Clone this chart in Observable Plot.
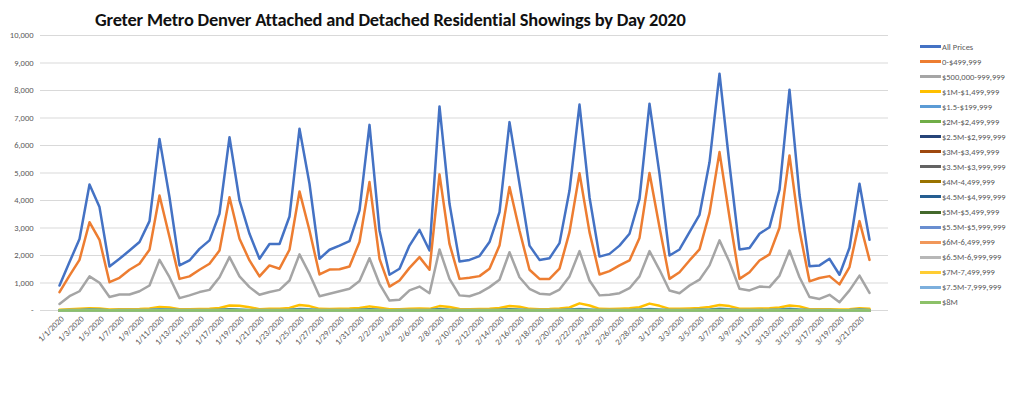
<!DOCTYPE html>
<html>
<head>
<meta charset="utf-8">
<script src="https://cdn.jsdelivr.net/npm/d3@7"></script>
<script src="https://cdn.jsdelivr.net/npm/@observablehq/plot@0.6"></script>
<style>
  html, body { margin: 0; padding: 0; background: #fff; }
  body { width: 1024px; height: 397px; position: relative; overflow: hidden; font-family: Carlito, Lato, "Open Sans", sans-serif; }
  #title { position: absolute; left: 95px; top: 8px; font-size: 18.4px; font-weight: bold; color: #111; white-space: nowrap; letter-spacing: -0.2px; }
  #chart { position: absolute; left: 0; top: 0; }
  #legend { position: absolute; left: 920px; top: 39px; font-size: 8.5px; color: #595959; }
  .item { height: 15.06px; display: flex; align-items: center; white-space: nowrap; }
  .sw { width: 21px; height: 3px; margin-right: 1px; }
</style>
</head>
<body>
<div id="title">Greter Metro Denver Attached and Detached Residential Showings by Day 2020</div>
<div id="chart"></div>
<div id="legend"></div>
<script>
const dates = ["1/1/2020","1/2/2020","1/3/2020","1/4/2020","1/5/2020","1/6/2020","1/7/2020","1/8/2020","1/9/2020","1/10/2020",
"1/11/2020","1/12/2020","1/13/2020","1/14/2020","1/15/2020","1/16/2020","1/17/2020","1/18/2020","1/19/2020","1/20/2020",
"1/21/2020","1/22/2020","1/23/2020","1/24/2020","1/25/2020","1/26/2020","1/27/2020","1/28/2020","1/29/2020","1/30/2020",
"1/31/2020","2/1/2020","2/2/2020","2/3/2020","2/4/2020","2/5/2020","2/6/2020","2/7/2020","2/8/2020","2/9/2020",
"2/10/2020","2/11/2020","2/12/2020","2/13/2020","2/14/2020","2/15/2020","2/16/2020","2/17/2020","2/18/2020","2/19/2020",
"2/20/2020","2/21/2020","2/22/2020","2/23/2020","2/24/2020","2/25/2020","2/26/2020","2/27/2020","2/28/2020","2/29/2020",
"3/1/2020","3/2/2020","3/3/2020","3/4/2020","3/5/2020","3/6/2020","3/7/2020","3/8/2020","3/9/2020","3/10/2020",
"3/11/2020","3/12/2020","3/13/2020","3/14/2020","3/15/2020","3/16/2020","3/17/2020","3/18/2020","3/19/2020","3/20/2020",
"3/21/2020","3/22/2020"];

const xTickLabels = ["1/1/2020","1/3/2020","1/5/2020","1/7/2020","1/9/2020","1/11/2020","1/13/2020","1/15/2020","1/17/2020","1/19/2020",
"1/21/2020","1/23/2020","1/25/2020","1/27/2020","1/29/2020","1/31/2020","2/2/2020","2/4/2020","2/6/2020","2/8/2020",
"2/10/2020","2/12/2020","2/14/2020","2/16/2020","2/18/2020","2/20/2020","2/22/2020","2/24/2020","2/26/2020","2/28/2020",
"3/1/2020","3/3/2020","3/5/2020","3/7/2020","3/9/2020","3/11/2020","3/13/2020","3/15/2020","3/17/2020","3/19/2020","3/21/2020"];

const yTicks = [0,1000,2000,3000,4000,5000,6000,7000,8000,9000,10000];

const allPrices = [909,1760,2600,4580,3760,1600,1880,2180,2490,3250,
6240,4120,1640,1820,2240,2550,3520,6300,4000,2790,
1880,2420,2420,3420,6610,4610,1880,2210,2360,2520,
3640,6750,2910,1300,1520,2360,2930,2180,7420,3880,
1780,1840,1980,2490,3580,6850,4610,2360,1840,1900,
2450,4360,7490,4120,1960,2060,2360,2790,4060,7520,
4970,2000,2220,2850,3480,5390,8610,5300,2220,2270,
2790,3030,4390,8030,4200,1610,1640,1880,1300,2280,
4610,2570];

const under500k = [670,1270,1840,3210,2570,1030,1190,1480,1700,2210,
4180,2670,1150,1240,1480,1700,2180,4120,2610,1820,
1240,1640,1520,2210,4330,2910,1310,1490,1500,1600,
2490,4670,1880,870,1090,1550,1940,1480,4950,2420,
1150,1190,1250,1520,2360,4490,2910,1480,1150,1150,
1520,2850,4990,2850,1310,1430,1640,1820,2640,5000,
3030,1150,1390,1820,2220,3540,5760,3390,1150,1390,
1820,2040,3010,5640,2910,1060,1180,1250,950,1580,
3250,1840];

const r500k = [240,520,700,1240,1010,490,580,580,700,910,
1840,1210,450,550,670,750,1210,1940,1240,850,
570,670,750,1090,2040,1330,520,610,700,790,
1070,1900,970,360,390,730,870,630,2220,1150,
550,520,640,850,1120,2120,1210,790,610,580,
760,1240,2160,1090,550,570,630,810,1240,2160,
1480,730,630,910,1120,1640,2550,1760,790,730,
870,850,1270,2180,1210,490,420,570,300,730,
1270,640];

const r1m = [30,45,60,80,70,40,45,50,55,70,
130,110,50,45,55,60,90,180,170,120,
50,60,65,95,200,160,60,55,60,70,
90,150,100,45,50,60,70,60,160,130,
55,50,55,65,90,160,140,60,50,55,
70,110,260,180,60,55,65,80,120,250,
170,60,60,75,90,130,200,160,65,60,
70,80,110,180,150,45,45,50,35,50,
80,60];

const r15m = [10,15,20,35,30,12,14,16,18,25,45,35,14,15,18,20,28,50,40,22,15,18,18,28,55,42,16,17,18,20,30,50,25,12,14,18,22,18,55,30,15,15,16,20,28,50,38,18,15,16,20,35,58,38,16,17,19,22,35,58,40,17,18,22,28,40,65,45,18,18,22,24,35,60,35,14,14,16,12,18,38,22];
const r2m = [5,8,10,18,15,6,7,8,9,12,22,18,7,8,9,10,14,25,20,11,8,9,9,14,28,21,8,9,9,10,15,25,12,6,7,9,11,9,28,15,8,8,8,10,14,25,19,9,8,8,10,18,29,19,8,9,10,11,18,29,20,9,9,11,14,20,32,22,9,9,11,12,18,30,18,7,7,8,6,9,19,11];
const r25m = [3,4,6,10,8,3,4,4,5,7,12,10,4,4,5,6,8,14,11,6,4,5,5,8,15,12,4,5,5,6,8,14,7,3,4,5,6,5,15,8,4,4,4,6,8,14,10,5,4,4,6,10,16,10,4,5,6,6,10,16,11,5,5,6,8,11,18,12,5,5,6,7,10,17,10,4,4,4,3,5,10,6];
const r3m = [2,2,3,6,5,2,2,2,3,4,7,6,2,2,3,3,5,8,6,3,2,3,3,5,9,7,2,3,3,3,5,8,4,2,2,3,3,3,9,5,2,2,2,3,5,8,6,3,2,2,3,6,9,6,2,3,3,3,6,9,6,3,3,3,5,6,10,7,3,3,3,4,6,9,6,2,2,2,2,3,6,3];
const r35m = [1,1,2,4,3,1,1,1,2,2,5,4,1,1,2,2,3,5,4,2,1,2,2,3,6,4,1,2,2,2,3,5,2,1,1,2,2,2,6,3,1,1,1,2,3,5,4,2,1,1,2,4,6,4,1,2,2,2,4,6,4,2,2,2,3,4,7,5,2,2,2,2,4,6,4,1,1,1,1,2,4,2];
const r4m = [0,1,1,3,2,1,1,1,1,2,3,2,1,1,1,1,2,4,3,1,1,1,1,2,4,3,1,1,1,1,2,3,1,0,1,1,1,1,4,2,1,1,1,1,2,3,2,1,1,1,1,2,4,3,1,1,1,1,2,4,3,1,1,1,2,3,5,3,1,1,1,1,2,4,2,1,1,1,0,1,2,1];
const r45m = [0,0,1,2,1,0,1,0,1,1,2,1,0,1,1,1,1,3,2,1,0,1,1,1,3,2,1,0,1,1,1,2,1,0,0,1,1,1,3,1,1,0,1,1,1,2,2,1,0,1,1,2,3,2,1,0,1,1,1,3,2,1,1,1,1,2,3,2,1,1,1,1,1,3,2,0,0,1,0,1,2,1];
const r5m = [0,0,0,1,1,0,0,0,1,1,2,1,0,0,1,0,1,2,1,1,0,0,1,1,2,1,0,0,1,0,1,2,1,0,0,0,1,0,2,1,0,0,0,1,1,2,1,0,0,0,1,1,2,1,0,0,1,1,1,2,1,0,0,1,1,1,2,1,0,0,1,1,1,2,1,0,0,0,0,0,1,1];
const r55m = [0,0,0,1,0,0,0,0,0,1,1,1,0,0,0,0,1,2,1,0,0,0,0,1,2,1,0,0,0,0,1,1,0,0,0,0,0,0,2,1,0,0,0,0,1,1,1,0,0,0,0,1,2,1,0,0,0,1,1,2,1,0,0,0,1,1,2,1,0,0,0,0,1,2,1,0,0,0,0,0,1,0];
const r6m = [0,0,0,1,0,0,0,0,0,0,1,0,0,0,0,0,0,1,1,0,0,0,0,0,1,1,0,0,0,0,0,1,0,0,0,0,0,0,1,0,0,0,0,0,0,1,0,0,0,0,0,1,1,0,0,0,0,0,1,1,1,0,0,0,0,1,1,1,0,0,0,0,0,1,0,0,0,0,0,0,1,0];
const r65m = [0,0,0,0,0,0,0,0,0,0,1,0,0,0,0,0,0,1,0,0,0,0,0,0,1,0,0,0,0,0,0,1,0,0,0,0,0,0,1,0,0,0,0,0,0,1,0,0,0,0,0,0,1,0,0,0,0,0,0,1,0,0,0,0,0,0,1,0,0,0,0,0,0,1,0,0,0,0,0,0,0,0];
const r7m = [0,0,0,0,0,0,0,0,0,0,0,0,0,0,0,0,0,1,0,0,0,0,0,0,0,0,0,0,0,0,0,0,0,0,0,0,0,0,1,0,0,0,0,0,0,0,0,0,0,0,0,0,1,0,0,0,0,0,0,0,0,0,0,0,0,0,1,0,0,0,0,0,0,0,0,0,0,0,0,0,0,0];
const r75m = [0,0,0,0,0,0,0,0,0,0,0,0,0,0,0,0,0,0,0,0,0,0,0,0,1,0,0,0,0,0,0,0,0,0,0,0,0,0,0,0,0,0,0,0,0,0,0,0,0,0,0,0,0,0,0,0,0,0,0,1,0,0,0,0,0,0,0,0,0,0,0,0,0,0,0,0,0,0,0,0,0,0];
const r8m = [0,0,0,1,0,0,0,0,0,0,1,0,0,0,0,0,0,1,0,0,0,0,0,0,1,0,0,0,0,0,0,1,0,0,0,0,0,0,1,0,0,0,0,0,0,1,0,0,0,0,0,0,1,0,0,0,0,0,0,1,0,0,0,0,0,0,2,0,0,0,0,0,0,1,0,0,0,0,0,0,0,0];

const seriesNames = ["All Prices","0-$499,999","$500,000-999,999","$1M-$1,499,999","$1.5-$199,999","$2M-$2,499,999",
"$2.5M-$2,999,999","$3M-$3,499,999","$3.5M-$3,999,999","$4M-4,499,999","$4.5M-$4,999,999","$5M-$5,499,999",
"$5.5M-$5,999,999","$6M-6,499,999","$6.5M-6,999,999","$7M-7,499,999","$7.5M-7,999,999","$8M"];
const seriesColors = ["#4472C4","#ED7D31","#A5A5A5","#FFC000","#5B9BD5","#70AD47","#264478","#9E480E","#636363",
"#997300","#255E91","#43682B","#698ED0","#F1975A","#B7B7B7","#FFCD33","#7CAFDD","#8CC168"];
const seriesValues = [allPrices,under500k,r500k,r1m,r15m,r2m,r25m,r3m,r35m,r4m,r45m,r5m,r55m,r6m,r65m,r7m,r75m,r8m];

const rows = seriesNames.flatMap((name, s) =>
  seriesValues[s].map((v, i) => ({series: name, date: dates[i], value: v})));

const fmt = d => d === 0 ? "-" : d3.format(",")(d);

const chart = Plot.plot({
  width: 1024,
  height: 397,
  marginLeft: 40,
  marginRight: 136,
  marginTop: 35,
  marginBottom: 87,
  style: {fontFamily: "Carlito, Lato, 'Open Sans', sans-serif", background: "transparent"},
  x: {type: "point", domain: dates, padding: 0.5},
  y: {domain: [0, 10000]},
  color: {domain: seriesNames, range: seriesColors},
  marks: [
    Plot.gridY(yTicks, {stroke: "#d9d9d9", strokeOpacity: 1, strokeWidth: 1}),
    Plot.axisY(yTicks, {tickSize: 0, tickPadding: 7, tickFormat: fmt, fontSize: 8.5, fill: "#595959", label: null}),
    Plot.axisX(xTickLabels, {tickSize: 0, tickPadding: 7, tickRotate: -45, fontSize: 8.5, fill: "#595959", label: null, dx: 3}),
    ...seriesNames.map((name, s) =>
      Plot.line(rows.filter(r => r.series === name), {
        x: "date", y: "value", stroke: seriesColors[s], strokeWidth: 2.5, strokeLinejoin: "round", strokeLinecap: "round"
      }))
  ]
});
document.getElementById("chart").appendChild(chart);

const legend = document.getElementById("legend");
seriesNames.forEach((name, s) => {
  const item = document.createElement("div");
  item.className = "item";
  const sw = document.createElement("span");
  sw.className = "sw";
  sw.style.background = seriesColors[s];
  const t = document.createElement("span");
  t.textContent = name;
  item.appendChild(sw);
  item.appendChild(t);
  legend.appendChild(item);
});
</script>
</body>
</html>
